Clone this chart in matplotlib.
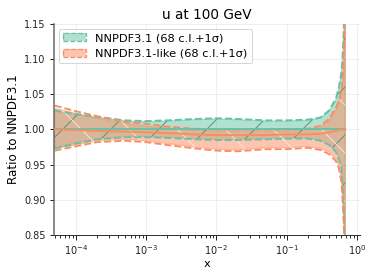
import numpy as np
import matplotlib
matplotlib.use("Agg")
import matplotlib.pyplot as plt
import matplotlib.patches as mpatches

# ---- data ----
x = [5e-5, 1e-4, 2e-4, 5e-4, 1e-3, 2e-3, 5e-3, 1e-2, 2e-2, 5e-2, 0.1, 0.2, 0.3,
     0.4, 0.5, 0.55, 0.6, 0.63, 0.66, 0.68]

# NNPDF3.1 (reference, central = 1)
g_central = [1.0] * 20
g68_up = [1.026, 1.021, 1.017, 1.012, 1.011, 1.012, 1.014, 1.015, 1.014, 1.012, 1.012,
          1.013, 1.016, 1.026, 1.042, 1.058, 1.079, 1.11, 1.16, 1.40]
g68_dn = [0.974, 0.981, 0.987, 0.990, 0.990, 0.989, 0.987, 0.986, 0.986, 0.987, 0.988,
          0.988, 0.985, 0.979, 0.969, 0.960, 0.948, 0.915, 0.86, 0.60]
g1s_up = [1.027, 1.022, 1.018, 1.013, 1.012, 1.013, 1.015, 1.016, 1.015, 1.013, 1.013,
          1.014, 1.017, 1.027, 1.044, 1.060, 1.082, 1.115, 1.17, 1.40]
g1s_dn = [0.973, 0.980, 0.986, 0.989, 0.989, 0.988, 0.986, 0.985, 0.985, 0.986, 0.987,
          0.987, 0.984, 0.978, 0.968, 0.958, 0.946, 0.910, 0.85, 0.60]

# NNPDF3.1-like
o_central = [1.000, 0.999, 0.998, 0.997, 0.996, 0.995, 0.993, 0.992, 0.992, 0.992, 0.993,
             0.993, 0.994, 0.996, 0.998, 0.999, 1.000, 1.000, 1.000, 1.000]
o68_up = [1.030, 1.023, 1.016, 1.009, 1.005, 1.002, 0.999, 0.998, 0.998, 0.998, 0.998,
          0.999, 1.003, 1.013, 1.028, 1.038, 1.052, 1.075, 1.12, 1.40]
o68_dn = [0.973, 0.978, 0.984, 0.986, 0.984, 0.980, 0.975, 0.972, 0.971, 0.974, 0.974,
          0.976, 0.973, 0.968, 0.958, 0.948, 0.930, 0.895, 0.85, 0.60]
o1s_up = [1.034, 1.026, 1.019, 1.011, 1.008, 1.004, 1.001, 1.000, 1.000, 1.000, 1.000,
          1.001, 1.005, 1.015, 1.031, 1.041, 1.056, 1.080, 1.13, 1.40]
o1s_dn = [0.970, 0.976, 0.982, 0.984, 0.982, 0.978, 0.973, 0.970, 0.969, 0.972, 0.972,
          0.974, 0.971, 0.965, 0.955, 0.945, 0.925, 0.890, 0.84, 0.60]

labels = ["NNPDF3.1 (68 c.l.+1σ)", "NNPDF3.1-like (68 c.l.+1σ)"]
colors = ["#66c2a5", "#fc8d62"]
hatch_colors = ["#5e8a7a", "#fde6da"]
hatches = ["/", "\\"]
yticks = [0.85, 0.90, 0.95, 1.00, 1.05, 1.10, 1.15]

DPI = 144


def px(v):
    """pixel size -> points at this dpi"""
    return v * 72.0 / DPI


plt.rcParams["hatch.linewidth"] = px(1.1)
plt.rcParams["xtick.major.size"] = px(4.5)
plt.rcParams["ytick.major.size"] = px(4.5)
plt.rcParams["xtick.minor.size"] = px(2.5)
plt.rcParams["xtick.major.width"] = px(1)
plt.rcParams["ytick.major.width"] = px(1)
plt.rcParams["xtick.minor.width"] = px(0.8)
plt.rcParams["xtick.major.pad"] = px(4)
plt.rcParams["ytick.major.pad"] = px(4)

fig = plt.figure(figsize=(374 / DPI, 275 / DPI), dpi=DPI)
ax = fig.add_axes([0.1444, 0.1455, 0.8182, 0.7672])

series = [
    (g_central, g68_dn, g68_up, g1s_dn, g1s_up),
    (o_central, o68_dn, o68_up, o1s_dn, o1s_up),
]
handles = []
for (c, d68, u68, d1, u1), col, hc, h, lab in zip(series, colors, hatch_colors, hatches, labels):
    ax.plot(x, c, color=col, lw=px(1.9), zorder=3)
    ax.fill_between(x, d68, u68, color=col, alpha=0.5, lw=px(1.2), zorder=1)
    ax.fill_between(x, d68, u68, facecolor="none", edgecolor=hc, lw=0, hatch=h,
                    alpha=0.85, zorder=1.1)
    ax.plot(x, d1, color=col, ls="--", lw=px(1.9), zorder=2)
    ax.plot(x, u1, color=col, ls="--", lw=px(1.9), zorder=2)
    p1 = mpatches.Patch(facecolor=col, edgecolor=col, alpha=0.5, lw=0)
    p1h = mpatches.Patch(facecolor="none", edgecolor="#777777", hatch=h, lw=0)
    p2 = mpatches.Patch(fill=False, edgecolor=col, linestyle="--", lw=px(1.3))
    handles.append((p1, p1h, p2))

ax.set_xscale("log")
ax.set_xlim(4.9e-5, 1.1)
ax.set_ylim(0.85, 1.15)
ax.set_yticks(yticks)
ax.set_yticklabels([f"{v:.2f}" for v in yticks])
ax.grid(True, which="major", color="#ebebeb", lw=px(0.8))
ax.set_axisbelow(True)
for s in ["top", "right"]:
    ax.spines[s].set_visible(False)
ax.spines["left"].set_color("#666666")
ax.spines["left"].set_linewidth(px(1.5))
ax.spines["bottom"].set_color("#333333")
ax.spines["bottom"].set_linewidth(px(1.0))
ax.tick_params(labelsize=px(9.8), colors="#222222")
ax.set_title("u at 100 GeV", fontsize=px(13.6), pad=px(5))
ax.set_xlabel("x", fontsize=px(11.4), labelpad=px(2))
ax.set_ylabel("Ratio to NNPDF3.1", fontsize=px(11.9), labelpad=px(4))
leg = ax.legend(handles, labels, loc="upper left", fontsize=px(11.4), handlelength=2,
                borderaxespad=0.4, framealpha=0.8)
leg.get_frame().set_linewidth(px(1))

fig.savefig("out.png", dpi=DPI)
